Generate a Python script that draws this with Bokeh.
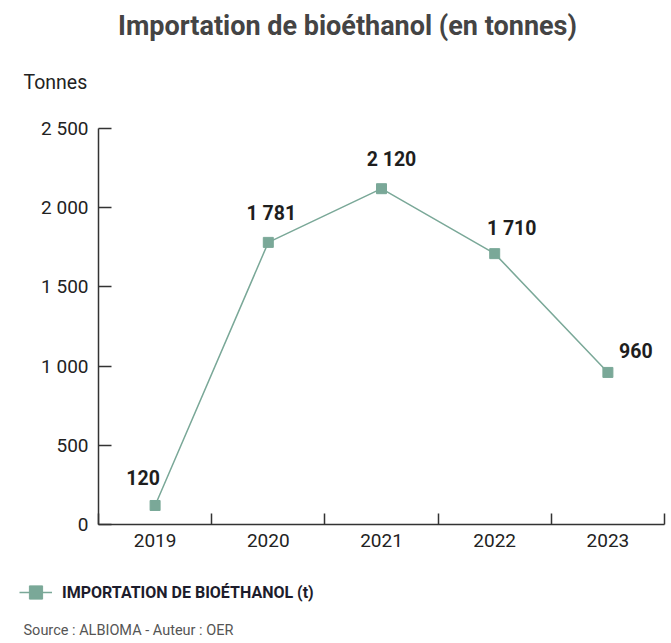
from bokeh.plotting import figure
from bokeh.models import (ColumnDataSource, FixedTicker, Range1d, Label, Legend, LegendItem)
from bokeh.core.properties import value
from bokeh.embed import file_html
from bokeh.resources import INLINE

# ---- data ----
years = [2019, 2020, 2021, 2022, 2023]
values = [120, 1781, 2120, 1710, 960]
value_labels = ["120", "1 781", "2 120", "1 710", "960"]
y_ticks = [0, 500, 1000, 1500, 2000, 2500]
y_tick_labels = ["0", "500", "1 000", "1 500", "2 000", "2 500"]
series_name = "IMPORTATION DE BIOÉTHANOL (t)"
title_text = "Importation de bioéthanol (en tonnes)"
unit_text = "Tonnes"
source_text = "Source : ALBIOMA  -  Auteur : OER"

# label placement (style, not data)
label_dx = [-12, 3, 10, 17, 28]
label_dy = [-28, -29, -29, -25, -22]

FONT = "Roboto"
GREEN = "#7aa898"
AXIS = "#333333"

W, H = 671, 643
# pixel layout of the plotting area inside the canvas
AX_L, AX_R, AX_T, AX_B = 98, 664, 128, 524
x0, x1 = years[0] - 0.5, years[-1] + 0.5
y0, y1 = y_ticks[0], y_ticks[-1]
px_x = (AX_R - AX_L) / (x1 - x0)
px_y = (AX_B - AX_T) / (y1 - y0)
x_range = Range1d(x0 - AX_L / px_x, x1 + (W - AX_R) / px_x)
y_range = Range1d(y0 - (H - AX_B) / px_y, y1 + AX_T / px_y)

src = ColumnDataSource(dict(x=years, y=values, lab=value_labels, dx=label_dx, dy=label_dy))

p = figure(width=W, height=H, output_backend="svg", toolbar_location=None,
           x_range=x_range, y_range=y_range,
           min_border=0, min_border_left=0, min_border_right=0,
           min_border_top=0, min_border_bottom=0)
p.outline_line_color = None
p.xgrid.visible = False
p.ygrid.visible = False
p.background_fill_color = "white"
p.border_fill_color = "white"

# y axis
ya = p.yaxis[0]
ya.fixed_location = x0
ya.bounds = (y0, y1)
ya.ticker = FixedTicker(ticks=y_ticks)
ya.major_label_overrides = {t: l for t, l in zip(y_ticks, y_tick_labels)}
ya.major_tick_in = 13
ya.major_tick_out = 0
ya.minor_tick_line_color = None
ya.axis_line_color = AXIS
ya.axis_line_width = 1.5
ya.major_tick_line_color = AXIS
ya.major_tick_line_width = 1.5
ya.major_label_text_font = FONT
ya.major_label_text_font_size = "19px"
ya.major_label_text_color = "#222222"
ya.major_label_standoff = 10

# x axis: labels at centers, ticks at boundaries (minor ticks)
xa = p.xaxis[0]
xa.fixed_location = y0
xa.bounds = (x0, x1)
bounds = [y - 0.5 for y in years] + [years[-1] + 0.5]
xa.ticker = FixedTicker(ticks=years, minor_ticks=bounds)
xa.major_label_overrides = {y: str(y) for y in years}
xa.major_tick_line_color = None
xa.major_tick_in = 0
xa.major_tick_out = 0
xa.minor_tick_in = 11
xa.minor_tick_out = 0
xa.minor_tick_line_color = AXIS
xa.minor_tick_line_width = 1.5
xa.axis_line_color = AXIS
xa.axis_line_width = 1.5
xa.major_label_text_font = FONT
xa.major_label_text_font_size = "19px"
xa.major_label_text_color = "#222222"
xa.major_label_standoff = 9

# series
ln = p.line("x", "y", source=src, line_color=GREEN, line_width=1.5)
sc = p.scatter("x", "y", source=src, marker="square", size=10, fill_color=GREEN, line_color=GREEN)
p.text("x", "y", text="lab", source=src, x_offset="dx", y_offset="dy",
       text_align="center", text_baseline="middle", text_font=value(FONT),
       text_font_size="19.5px", text_font_style="bold", text_color="#1e1e1e")

# legend (screen offset from the canvas' bottom-left corner)
legend = Legend(items=[LegendItem(label=series_name, renderers=[ln, sc])],
                location=(19, 33), orientation="horizontal",
                glyph_width=33, glyph_height=36, label_standoff=10,
                padding=0, margin=0, spacing=0,
                border_line_color=None, background_fill_alpha=0,
                label_text_font=FONT, label_text_font_size="16px",
                label_text_font_style="bold", label_text_color="#1c1c2c")
p.add_layout(legend, "center")

# texts (screen units from the canvas' bottom-left corner, y up)
p.add_layout(Label(x=347, y=H - 25, x_units="screen", y_units="screen", text=title_text,
                   text_align="center", text_baseline="middle", text_font=FONT,
                   text_font_size="27px", text_font_style="bold", text_color="#444444"))
p.add_layout(Label(x=23, y=H - 82, x_units="screen", y_units="screen", text=unit_text,
                   text_align="left", text_baseline="middle", text_font=FONT,
                   text_font_size="19.5px", text_color="#222222"))
p.add_layout(Label(x=23, y=5, x_units="screen", y_units="screen", text=source_text,
                   text_align="left", text_baseline="bottom", text_font=FONT,
                   text_font_size="14.5px", text_color="#555555"))

open("out.html", "w").write(file_html(p, INLINE))
